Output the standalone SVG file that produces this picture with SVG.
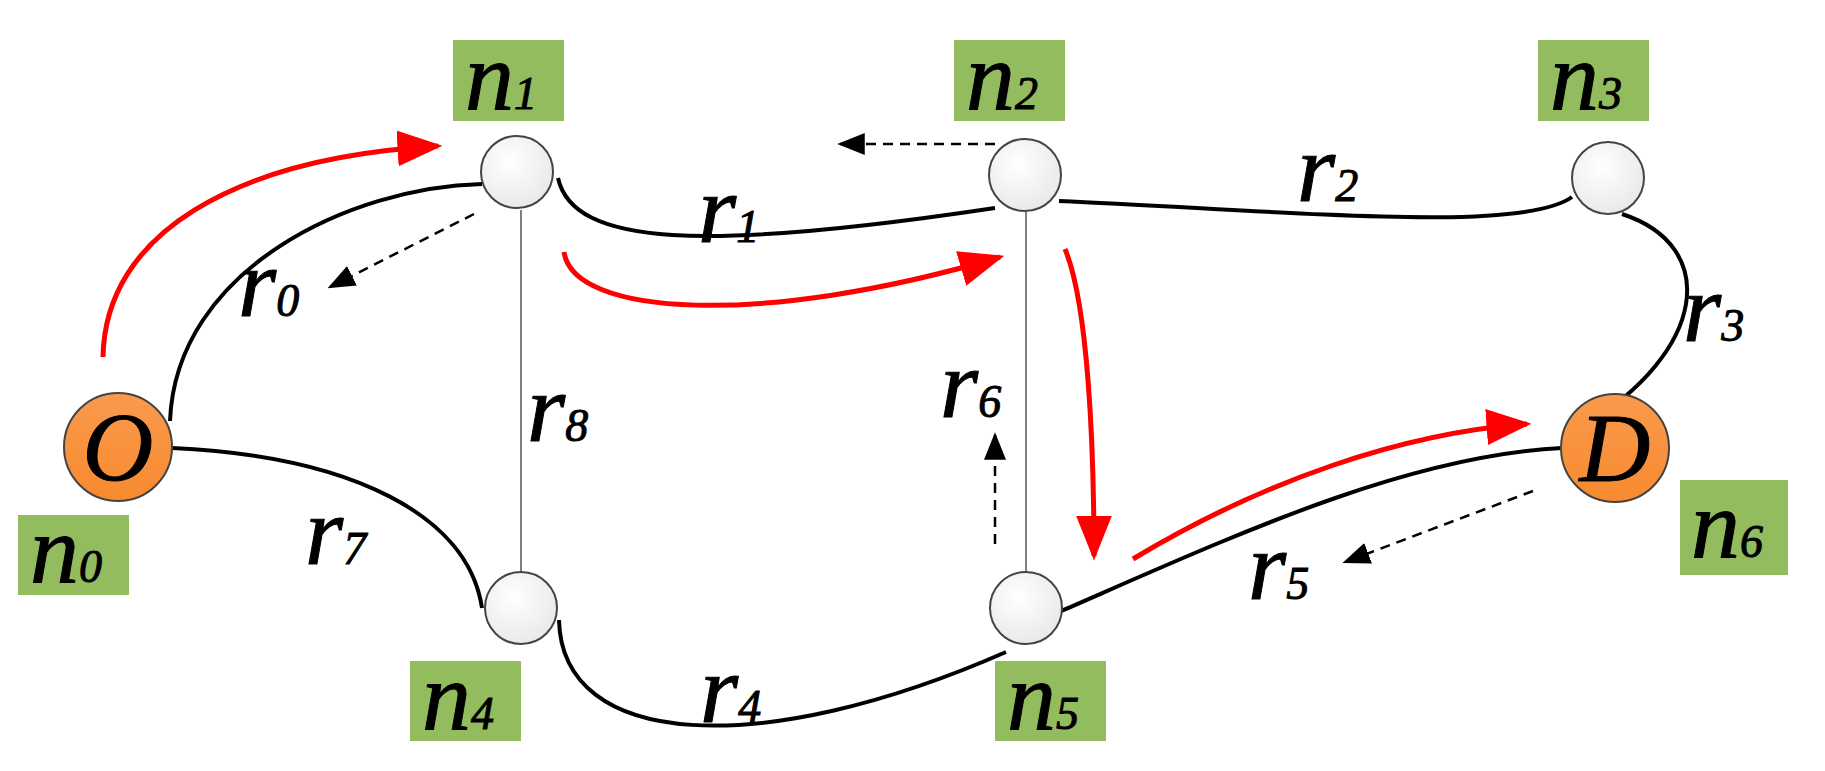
<svg xmlns="http://www.w3.org/2000/svg" width="1825" height="771" viewBox="0 0 1825 771">
<defs>
<radialGradient id="gw" cx="0.4" cy="0.35" r="0.7"><stop offset="0" stop-color="#ffffff"/><stop offset="1" stop-color="#e8e8e8"/></radialGradient>
<linearGradient id="go" x1="0" y1="0" x2="0" y2="1"><stop offset="0" stop-color="#fa9a4e"/><stop offset="1" stop-color="#f78a2e"/></linearGradient>
<marker id="ar" viewBox="0 0 10 10" refX="9" refY="5" markerWidth="9" markerHeight="9" markerUnits="strokeWidth" orient="auto"><path d="M0,1 L10,5 L0,9 z" fill="#ff0000"/></marker>
<marker id="ab" viewBox="0 0 10 10" refX="9" refY="5" markerWidth="11" markerHeight="11" markerUnits="strokeWidth" orient="auto"><path d="M0,1 L10,5 L0,9 z" fill="#000"/></marker>
<style>
.e{fill:none;stroke:#000;stroke-width:4}
.t{fill:none;stroke:#555;stroke-width:1.5}
.red{fill:none;stroke:#ff0000;stroke-width:5;marker-end:url(#ar)}
.d{fill:none;stroke:#000;stroke-width:2.5;stroke-dasharray:10,7;marker-end:url(#ab)}
.sn{fill:url(#gw);stroke:#444;stroke-width:2}
.bn{fill:url(#go);stroke:#444;stroke-width:2}
.box{fill:#92bc5e}
.lb{font-family:"Liberation Serif",serif;font-style:italic;font-size:98px;fill:#000;stroke:#000;stroke-width:1}
.sub{font-size:46px}
</style>
</defs>
<g id="connectors">
<path class="t" d="M521,210 L521,572"/>
<path class="t" d="M1026,212 L1026,574"/>
<path class="e" d="M482,184 C351,187 176,269 170,421"/>
<path class="e" d="M558,178 C573,246 702,252 995,208"/>
<path class="e" d="M1059,201 C1287,211 1521,234 1572,197"/>
<path class="e" d="M1622,214 C1720,246 1708,351 1582,427"/>
<path class="e" d="M172,448 C351,456 468,515 482,608"/>
<path class="e" d="M559,620 C562,749 760,760 1006,652"/>
<path class="e" d="M1059,612 C1229,538 1404,456 1562,448"/>
<path class="red" d="M103,357 C105,234 234,158 438,146"/>
<path class="red" d="M564,252 C573,316 760,328 1000,257"/>
<path class="red" d="M1065,249 C1088,304 1094,445 1094,556"/>
<path class="red" d="M1133,559 C1264,480 1404,433 1527,424"/>
<path class="d" d="M995,144 L840,144"/>
<path class="d" d="M474,214 L330,287"/>
<path class="d" d="M995,544 L995,435"/>
<path class="d" d="M1533,491 L1345,562"/>
<text class="lb" x="238" y="316">r<tspan class="sub">0</tspan></text>
<text class="lb" x="698" y="242">r<tspan class="sub">1</tspan></text>
<text class="lb" x="1297" y="201">r<tspan class="sub">2</tspan></text>
<text class="lb" x="1683" y="341">r<tspan class="sub">3</tspan></text>
<text class="lb" x="700" y="722">r<tspan class="sub">4</tspan></text>
<text class="lb" x="1248" y="599">r<tspan class="sub">5</tspan></text>
<text class="lb" x="940" y="417">r<tspan class="sub">6</tspan></text>
<text class="lb" x="305" y="564">r<tspan class="sub">7</tspan></text>
<text class="lb" x="527" y="441">r<tspan class="sub">8</tspan></text>
</g>
<g id="n0"><circle class="bn" cx="118" cy="447" r="54"/><text class="lb" x="118" y="480" text-anchor="middle">O</text>
<rect class="box" x="18" y="515" width="111" height="80"/><text class="lb" x="30" y="582">n<tspan class="sub">0</tspan></text></g>
<g id="n1"><circle class="sn" cx="517" cy="172" r="36"/>
<rect class="box" x="453" y="40" width="111" height="81"/><text class="lb" x="465" y="109">n<tspan class="sub">1</tspan></text></g>
<g id="n2"><circle class="sn" cx="1025" cy="175" r="36"/>
<rect class="box" x="954" y="40" width="111" height="81"/><text class="lb" x="966" y="109">n<tspan class="sub">2</tspan></text></g>
<g id="n3"><circle class="sn" cx="1608" cy="178" r="36"/>
<rect class="box" x="1538" y="40" width="111" height="81"/><text class="lb" x="1550" y="109">n<tspan class="sub">3</tspan></text></g>
<g id="n4"><circle class="sn" cx="521" cy="608" r="36"/>
<rect class="box" x="410" y="661" width="111" height="80"/><text class="lb" x="422" y="729">n<tspan class="sub">4</tspan></text></g>
<g id="n5"><circle class="sn" cx="1026" cy="608" r="36"/>
<rect class="box" x="995" y="661" width="111" height="80"/><text class="lb" x="1007" y="729">n<tspan class="sub">5</tspan></text></g>
<g id="n6"><circle class="bn" cx="1615" cy="448" r="54"/><text class="lb" x="1615" y="481" text-anchor="middle">D</text>
<rect class="box" x="1680" y="480" width="108" height="95"/><text class="lb" x="1691" y="557">n<tspan class="sub">6</tspan></text></g>
</svg>
